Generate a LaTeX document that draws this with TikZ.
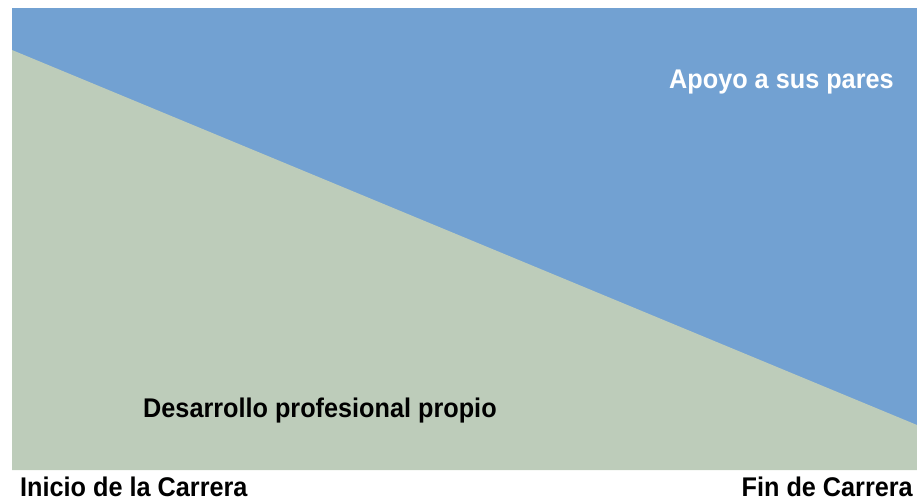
\documentclass[tikz,border=0pt]{standalone}
\usepackage{fontspec}
\setmainfont{Liberation Sans}[FakeStretch=0.935]
\usepackage{tikz}
\usetikzlibrary{positioning}
\definecolor{paresblue}{RGB}{114, 161, 210}
\definecolor{propiogreen}{RGB}{189, 204, 186}

\begin{document}
\begin{tikzpicture}[
    x=1pt, y=1pt,
    label/.style={font=\fontsize{27}{32}\selectfont\bfseries, inner sep=0pt}
]
\useasboundingbox (0,0) rectangle (917,501);

% Areas
\fill[paresblue] (12,31) rectangle (917,493);
\fill[propiogreen] (12,451) -- (917,76) -- (917,31) -- (12,31) -- cycle;

% Labels inside
\node[label, white, anchor=base west] (pares) at (669,412) {Apoyo a sus pares};
\node[label, black, anchor=base west] (propio) at (143,84) {Desarrollo profesional propio};

% Axis labels
\node[label, black, anchor=base west] (inicio) at (20,5) {Inicio de la Carrera};
\node[label, black, anchor=base east] (fin) at (913,5) {Fin de Carrera};
\end{tikzpicture}
\end{document}
